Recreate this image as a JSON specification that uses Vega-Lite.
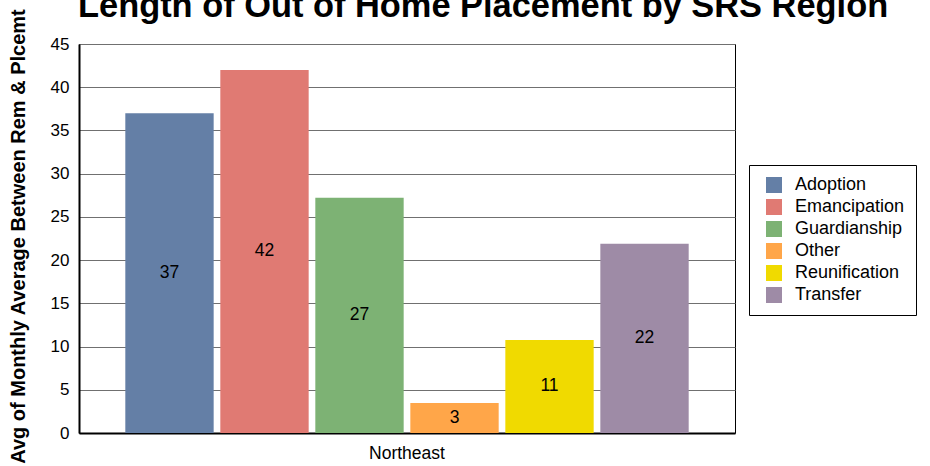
{
  "$schema": "https://vega.github.io/schema/vega-lite/v6.json",
  "autosize": {"type": "none"},
  "width": 656,
  "height": 389,
  "padding": {"left": 79, "top": 44, "right": 195, "bottom": 33},
  "background": "white",
  "title": {
    "text": "Length of Out of Home Placement by SRS Region",
    "font": "Liberation Sans",
    "fontSize": 34.4,
    "fontWeight": "bold",
    "color": "black",
    "anchor": "start",
    "frame": "group",
    "baseline": "alphabetic",
    "offset": 0,
    "dy": 43,
    "dx": -1
  },
  "data": {
    "values": [
      {"region": "Northeast", "type": "Adoption", "value": 37.0},
      {"region": "Northeast", "type": "Emancipation", "value": 42.0},
      {"region": "Northeast", "type": "Guardianship", "value": 27.2},
      {"region": "Northeast", "type": "Other", "value": 3.47},
      {"region": "Northeast", "type": "Reunification", "value": 10.76},
      {"region": "Northeast", "type": "Transfer", "value": 21.9}
    ]
  },
  "encoding": {
    "x": {
      "field": "region",
      "type": "nominal",
      "scale": {"paddingInner": 0, "paddingOuter": 0.0822},
      "axis": {
        "title": null,
        "labelAngle": 0,
        "tickSize": 0,
        "labelPadding": 11,
        "labelFont": "Liberation Sans",
        "labelFontSize": 17.5,
        "labelColor": "black",
        "domainColor": "black",
        "domainWidth": 2,
        "grid": false
      }
    },
    "xOffset": {
      "field": "type",
      "type": "nominal",
      "scale": {"paddingInner": 0.07, "paddingOuter": 0}
    }
  },
  "layer": [
    {
      "mark": {"type": "bar"},
      "encoding": {
        "y": {
          "field": "value",
          "type": "quantitative",
          "scale": {"domain": [0, 45], "nice": false},
          "axis": {
            "title": "Avg of Monthly Average Between Rem & Plcemt",
            "values": [0, 5, 10, 15, 20, 25, 30, 35, 40, 45],
            "grid": true,
            "gridColor": "#707070",
            "gridWidth": 1,
            "tickSize": 0,
            "labelPadding": 10,
            "labelFont": "Liberation Sans",
            "labelFontSize": 17,
            "labelColor": "black",
            "domainColor": "black",
            "domainWidth": 2,
            "titleFont": "Liberation Sans",
            "titleFontSize": 20,
            "titleFontWeight": "bold",
            "titleColor": "black",
            "titleAngle": 270,
            "titleAlign": "center",
            "titleBaseline": "middle",
            "titleX": -61,
            "titleY": 192
          }
        },
        "color": {
          "field": "type",
          "type": "nominal",
          "scale": {
            "domain": ["Adoption", "Emancipation", "Guardianship", "Other", "Reunification", "Transfer"],
            "range": ["#647FA6", "#E07A73", "#7DB274", "#FFA649", "#F0DA00", "#9E8BA6"]
          },
          "legend": {
            "title": null,
            "orient": "none",
            "legendX": 670,
            "legendY": 121,
            "strokeColor": "black",
            "fillColor": "white",
            "padding": 11,
            "symbolType": "square",
            "symbolSize": 256,
            "symbolStrokeWidth": 0,
            "symbolOpacity": 1,
            "symbolOffset": 5,
            "labelFont": "Liberation Sans",
            "labelFontSize": 18,
            "labelColor": "black",
            "labelOffset": 12,
            "rowPadding": 4
          }
        }
      }
    },
    {
      "mark": {"type": "text", "baseline": "middle", "align": "center", "font": "Liberation Sans", "fontSize": 17.5, "color": "black"},
      "encoding": {
        "y": {
          "field": "value",
          "type": "quantitative",
          "scale": {"domain": [0, 90], "nice": false},
          "axis": null
        },
        "text": {"field": "value", "type": "quantitative", "format": ".0f"}
      }
    }
  ],
  "resolve": {"scale": {"y": "independent"}},
  "config": {
    "view": {"stroke": "black", "strokeWidth": 1}
  }
}
